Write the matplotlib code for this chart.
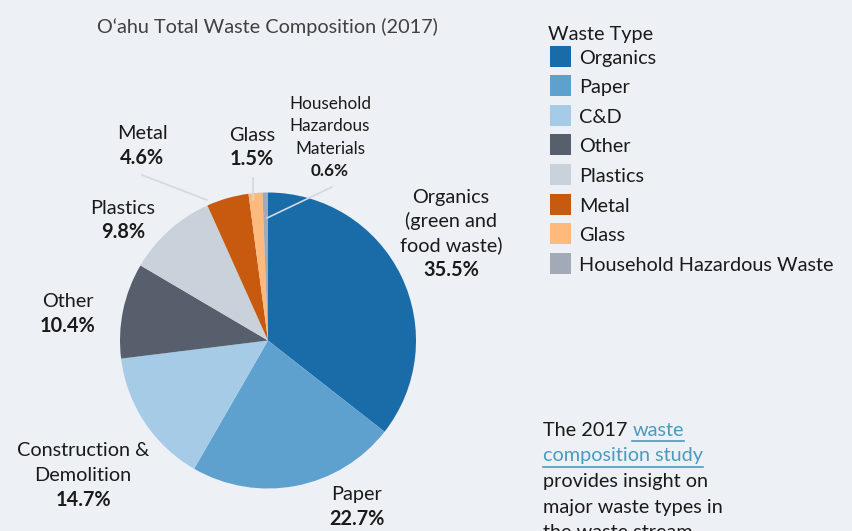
import matplotlib
matplotlib.use("Agg")
import matplotlib.pyplot as plt
from matplotlib.patches import Rectangle

W, H = 853, 531
plt.rcParams['font.family'] = ['Lato', 'DejaVu Sans']

categories = ["Organics", "Paper", "C&D", "Other", "Plastics", "Metal", "Glass",
              "Household Hazardous Waste"]
values = [35.5, 22.7, 14.7, 10.4, 9.8, 4.6, 1.5, 0.6]
colors = ["#1a6ca8", "#5ea1cf", "#a5cbe7", "#575f6d", "#c9d1da", "#c75a0e",
          "#fdba7c", "#a1aab6"]
pct_labels = ["35.5%", "22.7%", "14.7%", "10.4%", "9.8%", "4.6%", "1.5%", "0.6%"]
slice_names = ["Organics\n(green and\nfood waste)", "Paper", "Construction &\nDemolition",
               "Other", "Plastics", "Metal", "Glass", "Household\nHazardous\nMaterials"]

BG = "#edf0f4"
FS = 14.3
fig = plt.figure(figsize=(W / 100, H / 100), dpi=100, facecolor=BG)
ax = fig.add_axes([0, 0, 1, 1])
ax.set_facecolor(BG)

def Y(p):
    return H - p

cx, cy, R = 268, 340.5, 148
ax.pie(values, colors=colors, startangle=90, counterclock=False,
       center=(cx, Y(cy)), radius=R, frame=True,
       wedgeprops=dict(linewidth=0))
ax.set_xlim(0, W)
ax.set_ylim(0, H)
ax.set_aspect('equal')
ax.axis('off')

# Title
ax.text(267, Y(27), "O\u2018ahu Total Waste Composition (2017)", ha='center', va='center',
        fontsize=FS, color="#404040")

# Slice labels: (x, first-line y, line spacing, fontsize)
label_pos = [
    (451, 197, 24.3, FS),
    (357, 495, 24, FS),
    (83, 451, 24.5, FS),
    (68, 301, 25, FS),
    (123, 208, 24, FS),
    (142, 133, 25, FS),
    (252, 135, 24, FS),
    (330, 104, 22.3, 12.3),
]
for name, pct, (x, y0, dy, fs) in zip(slice_names, pct_labels, label_pos):
    lines = name.split("\n")
    for i, ln in enumerate(lines):
        ax.text(x, Y(y0 + i * dy), ln, ha='center', va='center', fontsize=fs,
                color="#1a1a1a")
    ax.text(x, Y(y0 + len(lines) * dy), pct, ha='center', va='center', fontsize=fs,
            fontweight='bold', color="#1a1a1a")

# Leader lines
lc = "#d4d9df"
ax.plot([142, 207], [Y(175), Y(200)], color=lc, lw=1.2)
ax.plot([253, 253], [Y(178), Y(200)], color=lc, lw=1.2)
ax.plot([332, 267], [Y(187), Y(218)], color=lc, lw=1.2)

# Legend
ax.text(548, Y(34), "Waste Type", ha='left', va='center', fontsize=FS, color="#1a1a1a")
for i, (cat, col) in enumerate(zip(categories, colors)):
    yc = 56 + i * 29.6
    ax.add_patch(Rectangle((550, Y(yc + 10.5)), 21, 21, facecolor=col, edgecolor='none'))
    ax.text(579, Y(yc + 2), cat, ha='left', va='center', fontsize=FS, color="#1a1a1a")

# Bottom-right note
fig.canvas.draw()
rend = fig.canvas.get_renderer()
link = "#4a9bbf"
t1 = ax.text(543, Y(431), "The 2017 ", ha='left', va='center', fontsize=FS, color="#1a1a1a")
bb = t1.get_window_extent(renderer=rend)
t2 = ax.text(bb.x1, Y(431), "waste", ha='left', va='center', fontsize=FS, color=link)
bb2 = t2.get_window_extent(renderer=rend)
ax.plot([bb2.x0, bb2.x1], [Y(441), Y(441)], color=link, lw=1.2)
t3 = ax.text(543, Y(456), "composition study", ha='left', va='center', fontsize=FS, color=link)
bb3 = t3.get_window_extent(renderer=rend)
ax.plot([bb3.x0, bb3.x1], [Y(467), Y(467)], color=link, lw=1.2)
for i, ln in enumerate(["provides insight on", "major waste types in", "the waste stream."]):
    ax.text(543, Y(482 + i * 25.3), ln, ha='left', va='center', fontsize=FS, color="#1a1a1a")

fig.savefig("out.png", dpi=100, facecolor=BG)
